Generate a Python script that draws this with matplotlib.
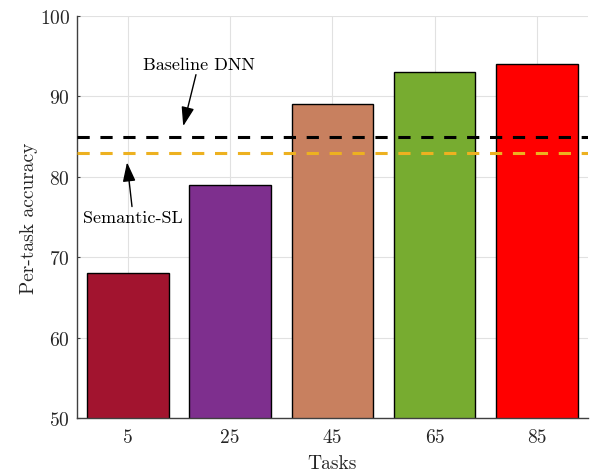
import matplotlib
matplotlib.use("Agg")
import matplotlib.pyplot as plt

tasks = ["5", "25", "45", "65", "85"]
accuracy = [68, 79, 89, 93, 94]
bar_colors = ["#A2142F", "#7E2F8E", "#C8805F", "#77AC30", "#FF0000"]
baseline_dnn = 85
semantic_sl = 83
yticks = [50, 60, 70, 80, 90, 100]

plt.rcParams['font.family'] = ['cmr10', 'DejaVu Serif']
plt.rcParams['mathtext.fontset'] = 'cm'
plt.rcParams['axes.formatter.use_mathtext'] = True

fig = plt.figure(figsize=(5.92, 4.77), dpi=100)
ax = fig.add_axes([0.130, 0.1216, 0.863, 0.8428])

x = list(range(len(tasks)))
ax.bar(x, accuracy, width=0.8, color=bar_colors, edgecolor="black", linewidth=1.0, zorder=2)
ax.axhline(baseline_dnn, color="black", linestyle=(0, (4, 3.5)), linewidth=2.2, zorder=3)
ax.axhline(semantic_sl, color="#EDB120", linestyle=(0, (4, 3.5)), linewidth=2.2, zorder=3)

ax.set_xlim(-0.5, 4.5)
ax.set_ylim(50, 100)
ax.set_xticks(x)
ax.set_xticklabels(tasks)
ax.set_yticks(yticks)
ax.tick_params(labelsize=14, direction="in", length=2.5, width=0.8,
               color="#404040", labelcolor="#262626")
ax.tick_params(axis="x", pad=7)
ax.tick_params(axis="y", pad=5)
ax.grid(True, color="#E1E1E1", linewidth=0.8, zorder=0)
ax.set_axisbelow(True)
for s in ["top", "right"]:
    ax.spines[s].set_visible(False)
for s in ["left", "bottom"]:
    ax.spines[s].set_color("#404040")
    ax.spines[s].set_linewidth(1.0)

ax.set_xlabel("Tasks", fontsize=14, color="#262626", labelpad=6)
ax.set_ylabel("Per-task accuracy", fontsize=14, color="#262626", labelpad=1)

arrow = dict(arrowstyle="-|>,head_length=0.9,head_width=0.3", color="black", lw=1.0, shrinkA=0, shrinkB=0)
ax.annotate("Baseline DNN", xy=(0.54, 86.3), xytext=(0.69, 94.0), fontsize=13,
            ha="center", va="center", arrowprops=arrow, zorder=5)
ax.annotate("Semantic-SL", xy=(-0.01, 81.8), xytext=(0.05, 75.0), fontsize=13,
            ha="center", va="center", arrowprops=arrow, zorder=5)

fig.savefig("out.png", dpi=100)
